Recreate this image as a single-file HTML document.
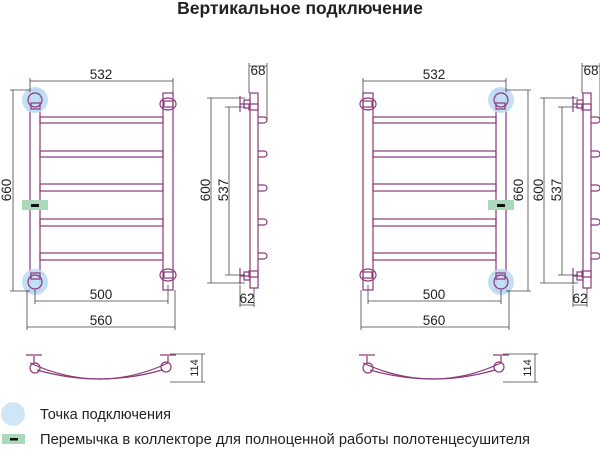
<!DOCTYPE html>
<html><head><meta charset="utf-8"><style>
body{margin:0;background:#fff;width:600px;height:449px;overflow:hidden}
svg{display:block}
text{font-family:"Liberation Sans",sans-serif;fill:#222}
</style></head><body>
<svg width="600" height="449" viewBox="0 0 600 449">
<text x="300" y="14" text-anchor="middle" font-size="17.5" font-weight="bold" fill="#333">Вертикальное подключение</text>

<defs>
<g id="rad">
  <rect x="30" y="90" width="10" height="201" fill="none" stroke="#8a3a7a" stroke-width="1.2"/>
  <rect x="163" y="93" width="10" height="197" fill="none" stroke="#8a3a7a" stroke-width="1.2"/>
  <g fill="none" stroke="#8a3a7a" stroke-width="1.2">
    <rect x="40" y="117" width="123" height="6"/>
    <rect x="40" y="151" width="123" height="6"/>
    <rect x="40" y="184" width="123" height="7"/>
    <rect x="40" y="219" width="123" height="7"/>
    <rect x="40" y="253" width="123" height="7"/>
    <ellipse cx="168" cy="104" rx="8" ry="6"/>
    <rect x="164" y="101" width="9" height="6"/>
    <ellipse cx="168" cy="275" rx="8" ry="6"/>
    <rect x="164" y="272" width="9" height="6"/>
  </g>
  <circle cx="35" cy="100" r="13" fill="#bcdcf5" opacity="0.9"/>
  <circle cx="35" cy="282" r="13" fill="#bcdcf5" opacity="0.9"/>
  <g fill="none" stroke="#8a3a7a" stroke-width="1.2">
    <ellipse cx="35" cy="100" rx="7" ry="7"/><rect x="31" y="103" width="9" height="6"/>
    <ellipse cx="35" cy="282" rx="7" ry="7"/><rect x="31" y="273" width="9" height="6"/>
  </g>
  <rect x="22" y="200" width="26" height="10" fill="#a9d9b8"/>
  <rect x="31" y="204" width="8" height="3" fill="#111"/>
  <g stroke="#444" stroke-width="0.8" fill="none">
    <path d="M30 81H173M30 78V92M173 78V96"/>
    <path d="M35 301H168M35 290V304M168 285V304"/>
    <path d="M27 327H175M27 290V330M175 290V330"/>
  </g>
</g>
<g id="side">
  <rect x="250" y="93" width="8" height="195" fill="none" stroke="#8a3a7a" stroke-width="1.2"/>
  <g fill="none" stroke="#8a3a7a" stroke-width="1.2">
    <path d="M258 117h6a3 3 0 0 1 0 6h-6M258 151h6a3 3 0 0 1 0 6h-6M258 185h6a3 3 0 0 1 0 6h-6M258 219h6a3 3 0 0 1 0 6h-6M258 253h6a3 3 0 0 1 0 6h-6"/>
    <path d="M240 96v16M240 104h10M244 100h6v8h-6zM249 104h9v6h-9z"/>
    <path d="M240 268v16M240 276h10M244 272h6v8h-6zM249 271h9v6h-9z"/>
  </g>
  <g stroke="#444" stroke-width="0.8" fill="none">
    <path d="M249 63V93M267 63V120M249 66H267"/>
    <path d="M207 98H245M207 283H245M211 98V283"/>
    <path d="M225 107H245M225 275H245M229 107V275"/>
    <path d="M240 285V307M254 288V307M240 305H254"/>
  </g>
  <text x="258" y="75" font-size="13.5" text-anchor="middle">68</text>
  <text x="247" y="303" font-size="13.5" text-anchor="middle">62</text>
  <text transform="translate(210 190) rotate(-90)" font-size="13.5" text-anchor="middle">600</text>
  <text transform="translate(228 190) rotate(-90)" font-size="13.5" text-anchor="middle">537</text>
</g>
<g id="top">
  <g fill="none" stroke="#8a3a7a" stroke-width="1.2">
    <path d="M30 363Q100 395 168 363"/>
    <path d="M37 370Q100 388 162 370"/>
    <path d="M26 355h16M34 356v7M160 355h16M168 356v7"/>
    <circle cx="35" cy="368" r="5"/><circle cx="166" cy="367" r="5"/>
  </g>
  <g stroke="#444" stroke-width="0.8" fill="none">
    <path d="M170 354H205M170 382H205M202 354V382"/>
  </g>
  <text transform="translate(198 368) rotate(-90)" font-size="11" text-anchor="middle">114</text>
</g>
<g id="labs">
  <text x="101" y="79" font-size="13.5" text-anchor="middle">532</text>
  <text x="101" y="299" font-size="13.5" text-anchor="middle">500</text>
  <text x="101" y="325" font-size="13.5" text-anchor="middle">560</text>
</g>
</defs>

<use href="#rad"/>
<use href="#labs"/>
<g stroke="#444" stroke-width="0.8" fill="none"><path d="M13 90V291M10 90H30M10 291H30"/></g>
<text transform="translate(11 190) rotate(-90)" font-size="13.5" text-anchor="middle">660</text>
<use href="#side"/>
<use href="#top"/>

<g transform="translate(536 0) scale(-1 1)"><use href="#rad"/></g>
<g transform="translate(333 0)"><use href="#labs"/></g>
<text transform="translate(523 190) rotate(-90)" font-size="13.5" text-anchor="middle">660</text>
<g stroke="#444" stroke-width="0.8" fill="none"><path d="M528 90V291M506 90H531M506 291H531"/></g>
<g transform="translate(333 0)"><use href="#side"/></g>
<g transform="translate(333 0)"><use href="#top"/></g>

<circle cx="13" cy="414" r="12" fill="#cfe6f7"/>
<text x="40" y="419" font-size="14.5">Точка подключения</text>
<rect x="2" y="434" width="23" height="10" fill="#a9d9b8"/>
<rect x="10" y="438" width="8" height="2.5" fill="#111"/>
<text x="40" y="444" font-size="14.5" textLength="490" lengthAdjust="spacingAndGlyphs">Перемычка в коллекторе для полноценной работы полотенцесушителя</text>
</svg>
</body></html>
